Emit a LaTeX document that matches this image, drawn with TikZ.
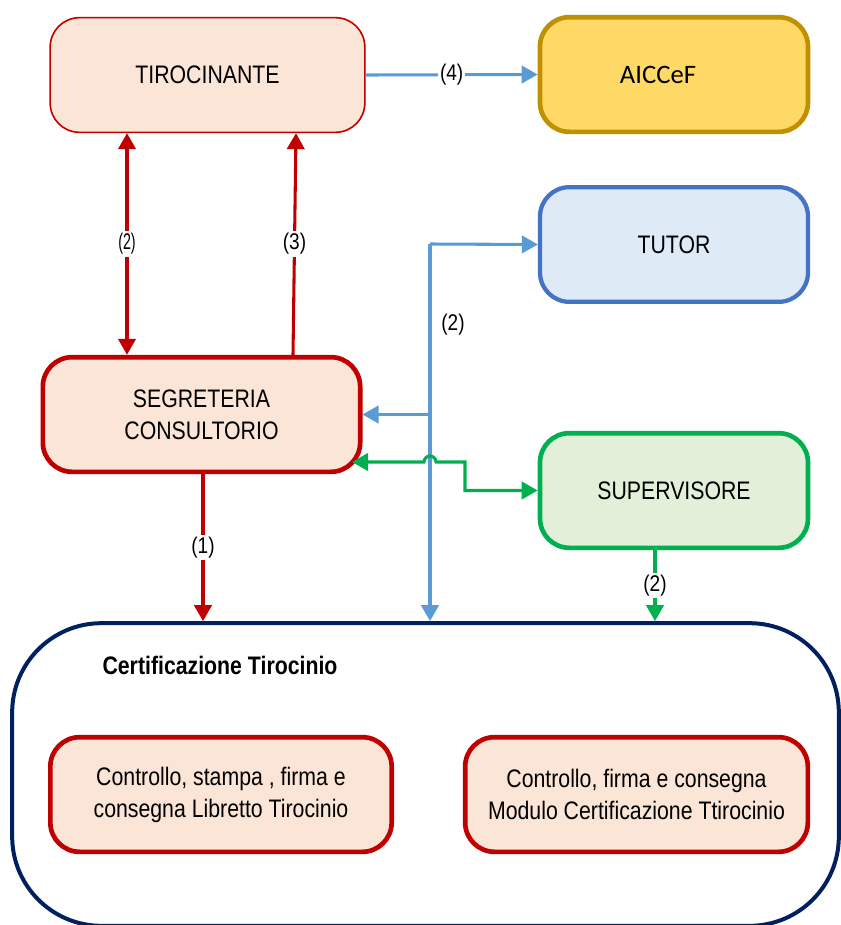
\documentclass[tikz,border=0pt]{standalone}
\usepackage{fontspec}
\setmainfont{Liberation Sans}[FakeStretch=0.84]
\newfontfamily\calfont{Carlito}
\usepackage{xcolor}
\usepackage{tikz}
\usetikzlibrary{arrows.meta,calc}

\definecolor{peach}{HTML}{FBE5D6}
\definecolor{rosso}{HTML}{C00000}
\definecolor{giallo}{HTML}{FFD966}
\definecolor{oro}{HTML}{BF9000}
\definecolor{celeste}{HTML}{DEEBF7}
\definecolor{blu}{HTML}{4472C4}
\definecolor{freccia}{HTML}{5B9BD5}
\definecolor{verdino}{HTML}{E2F0D9}
\definecolor{verde}{HTML}{00B050}
\definecolor{navy}{HTML}{002060}

\begin{document}
\begin{tikzpicture}[x=0.75pt,y=-0.75pt,>={Triangle[length=12pt,width=13pt]},
  box/.style={draw, rounded corners=22pt, minimum width=201pt, minimum height=86pt,
    align=center, inner sep=0pt, font=\fontsize{19}{24}\selectfont},
  lbl/.style={fill=white, text=black, inner sep=1.5pt, font=\fontsize{17}{20}\selectfont},
  fr/.style={line width=2.3pt}]
\useasboundingbox (0,0) rectangle (841,925);
\node[box, draw=rosso, fill=peach, line width=1.2pt, minimum width=236pt] (T) at (207.5,75) {TIROCINANTE};
\node[box, draw=oro, fill=giallo, line width=3.5pt] (A) at (674,74.5) {\calfont\fontsize{20}{24}\selectfont AICCeF\hspace*{24pt}};
\node[box, draw=blu, fill=celeste, line width=3.2pt] (U) at (674,244.5) {TUTOR};
\node[box, draw=rosso, fill=peach, line width=3.5pt, minimum width=238pt] (S) at (201.5,414.5) {SEGRETERIA\\CONSULTORIO};
\node[box, draw=verde, fill=verdino, line width=3.5pt] (V) at (674,490.5) {SUPERVISORE};

\node[draw=navy, line width=3pt, rounded corners=67pt, minimum width=620pt, minimum height=227pt] (C) at (425.5,774.5) {};
\node[font=\fontsize{19}{24}\selectfont\bfseries] (X) at (220,665) {Certificazione Tirocinio};
\node[box, draw=rosso, fill=peach, line width=3.5pt, minimum width=256pt] (L) at (221,794.5) {Controllo, stampa , firma e\\consegna Libretto Tirocinio};
\node[box, draw=rosso, fill=peach, line width=3.5pt, minimum width=257pt] (M) at (636.5,794.5) {Controllo, firma e consegna\\Modulo Certificazione Ttirocinio};

% frecce rosse
\draw[fr, rosso, <->] ($(T.south)+(-80.5,0)$) -- node[lbl, xscale=.75] {(2)} ($(S.north)+(-74.5,0)$);
\draw[fr, rosso, ->] ($(S.north)+(91.5,0)$) -- node[lbl] {(3)} ($(T.south)+(88.5,0)$);
\draw[fr, rosso, ->] ($(S.south)+(1.5,0)$) -- node[lbl] {(1)} ($(C.north)+(-222.5,0)$);

% frecce blu
\coordinate (J) at (430,244);
\draw[fr, freccia, ->] (T.east) -- node[lbl] {(4)} (A.west);
\draw[fr, freccia, ->] (J) -- (U.west);
\draw[fr, freccia, ->] (J) -- (J |- C.north);
\draw[fr, freccia, ->] (J |- S.east) -- (S.east);
\node[font=\fontsize{17}{20}\selectfont] (N) at (453,325) {(2)};

% frecce verdi
\coordinate (g) at (352,462);
\coordinate (K) at (465,462);
\draw[fr, verde, <->] (g) -- (424,462) arc (-180:0:6) -- (K) -- (K |- V.west) -- (V.west);
\draw[fr, verde, ->] ($(V.south)+(-19,0)$) -- node[lbl] {(2)} ($(C.north)+(229.5,0)$);
\end{tikzpicture}
\end{document}
